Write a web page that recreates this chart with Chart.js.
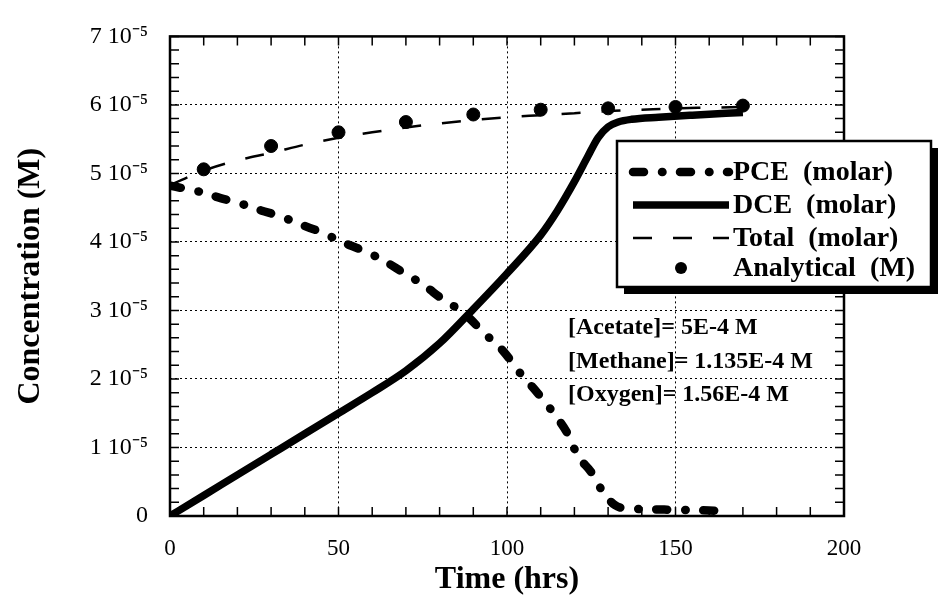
<!DOCTYPE html>
<html>
<head>
<meta charset="utf-8">
<script src="https://cdn.jsdelivr.net/npm/chart.js@4/dist/chart.umd.min.js"></script>
<style>
  html, body { margin: 0; background: #fff; }
  #wrap { width: 942px; height: 599px; }
</style>
</head>
<body>
<div id="wrap"><canvas id="chart"></canvas></div>
<script>
// time in hours, concentrations in M
var pceTime = [0, 9, 15, 21, 27, 33, 39, 45, 51, 57, 63, 69, 75, 81, 87, 93, 99, 104, 109, 114, 118, 121, 125, 129, 132, 135, 140, 150, 160, 166];
var pceConc = [4.82e-5, 4.73e-5, 4.64e-5, 4.56e-5, 4.46e-5, 4.37e-5, 4.25e-5, 4.14e-5, 4.00e-5, 3.88e-5, 3.74e-5, 3.56e-5, 3.38e-5, 3.16e-5, 2.97e-5, 2.68e-5, 2.40e-5, 2.08e-5, 1.80e-5, 1.49e-5, 1.20e-5, 0.88e-5, 0.64e-5, 0.31e-5, 0.16e-5, 0.11e-5, 0.10e-5, 0.09e-5, 0.08e-5, 0.07e-5];

var dceTime = [0, 10, 20, 30, 40, 50, 60, 70, 80, 90, 100, 110, 115, 120, 124, 127, 130, 133, 137, 145, 155, 170];
var dceConc = [0, 0.30e-5, 0.60e-5, 0.90e-5, 1.20e-5, 1.50e-5, 1.80e-5, 2.12e-5, 2.52e-5, 3.02e-5, 3.54e-5, 4.10e-5, 4.46e-5, 4.88e-5, 5.25e-5, 5.52e-5, 5.68e-5, 5.75e-5, 5.79e-5, 5.82e-5, 5.85e-5, 5.89e-5];

var totalTime = [0, 10, 20, 30, 40, 50, 60, 70, 80, 90, 100, 110, 120, 130, 140, 150, 160, 170];
var totalConc = [4.83e-5, 5.04e-5, 5.19e-5, 5.30e-5, 5.42e-5, 5.52e-5, 5.60e-5, 5.67e-5, 5.73e-5, 5.78e-5, 5.82e-5, 5.85e-5, 5.88e-5, 5.91e-5, 5.93e-5, 5.95e-5, 5.96e-5, 5.97e-5];

var labTime = [10, 30, 50, 70, 90, 110, 130, 150, 170];
var labConc = [5.06e-5, 5.40e-5, 5.60e-5, 5.75e-5, 5.86e-5, 5.93e-5, 5.95e-5, 5.97e-5, 5.99e-5];

var xTicks = [0, 50, 100, 150, 200];
var yTicks = [0, 1e-5, 2e-5, 3e-5, 4e-5, 5e-5, 6e-5, 7e-5];

var legendLabels = ['PCE  (molar)', 'DCE  (molar)', 'Total  (molar)', 'Analytical  (M)'];
var notes = ['[Acetate]= 5E-4 M', '[Methane]= 1.135E-4 M', '[Oxygen]= 1.56E-4 M'];

function pairs(xs, ys) {
    return xs.map(function (x, i) { return { x: x, y: ys[i] }; });
}

var PCE_DASH = [11, 18, 0.5, 17.5];
var TOTAL_DASH = [19, 21];

var serif = "'Liberation Serif', 'Times New Roman', serif";

// frame, inward ticks, legend box and the note text
var decor = {
    id: 'decor',
    afterDatasetsDraw: function (chart) {
        var ctx = chart.ctx;
        var a = chart.chartArea;
        var xs = chart.scales.x, ys = chart.scales.y;
        ctx.save();
        ctx.strokeStyle = '#000';
        ctx.lineWidth = 1.5;
        var t = 9;
        for (var v = 0; v <= 200; v += 10) {
            var px = xs.getPixelForValue(v);
            ctx.beginPath();
            ctx.moveTo(px, a.bottom); ctx.lineTo(px, a.bottom - t);
            ctx.moveTo(px, a.top); ctx.lineTo(px, a.top + t);
            ctx.stroke();
        }
        for (var k = 0; k <= 35; k++) {
            var py = ys.getPixelForValue(k * 2e-6);
            ctx.beginPath();
            ctx.moveTo(a.left, py); ctx.lineTo(a.left + t, py);
            ctx.moveTo(a.right, py); ctx.lineTo(a.right - t, py);
            ctx.stroke();
        }
        ctx.lineWidth = 2.5;
        ctx.strokeRect(a.left, a.top, a.right - a.left, a.bottom - a.top);
        ctx.restore();
    },
    afterDraw: function (chart) {
        var ctx = chart.ctx;
        ctx.save();
        // legend box with drop shadow
        var bx = 617, by = 141, bw = 314, bh = 146;
        ctx.fillStyle = '#000';
        ctx.fillRect(bx + 7, by + 7, bw, bh);
        ctx.fillStyle = '#fff';
        ctx.fillRect(bx, by, bw, bh);
        ctx.strokeStyle = '#000';
        ctx.lineWidth = 2.5;
        ctx.strokeRect(bx, by, bw, bh);

        var rows = [172, 205, 238, 268];
        var x0 = 633, x1 = 729;
        var ds = chart.data.datasets;
        for (var i = 0; i < 3; i++) {
            var d = ds[i];
            ctx.beginPath();
            ctx.lineWidth = d.borderWidth;
            ctx.lineCap = d.borderCapStyle || 'butt';
            ctx.setLineDash(d.borderDash || []);
            ctx.moveTo(x0, rows[i]);
            ctx.lineTo(x1, rows[i]);
            ctx.stroke();
        }
        ctx.setLineDash([]);
        ctx.beginPath();
        ctx.fillStyle = '#000';
        ctx.arc(681, rows[3], 6, 0, Math.PI * 2);
        ctx.fill();

        ctx.font = 'bold 28px ' + serif;
        ctx.textBaseline = 'middle';
        ctx.textAlign = 'left';
        legendLabels.forEach(function (s, j) {
            ctx.fillText(s, 733, rows[j] + 1);
        });

        ctx.font = 'bold 24px ' + serif;
        var noteRows = [328, 362, 395];
        notes.forEach(function (s, j) {
            ctx.fillText(s, 568, noteRows[j]);
        });
        ctx.restore();
    }
};

var ctx = document.getElementById('chart');

var chart = new Chart(ctx, {
    type: 'line',
    data: {
        datasets: [
            {
                label: 'PCE (molar)',
                data: pairs(pceTime, pceConc),
                borderColor: '#000',
                borderWidth: 8.5,
                borderDash: PCE_DASH,
                borderCapStyle: 'round',
                pointRadius: 0,
                cubicInterpolationMode: 'monotone',
                order: 1
            },
            {
                label: 'DCE (molar)',
                data: pairs(dceTime, dceConc),
                borderColor: '#000',
                borderWidth: 7.5,
                pointRadius: 0,
                cubicInterpolationMode: 'monotone',
                order: 2
            },
            {
                label: 'Total (molar)',
                data: pairs(totalTime, totalConc),
                borderColor: '#000',
                borderWidth: 2.5,
                borderDash: TOTAL_DASH,
                pointRadius: 0,
                cubicInterpolationMode: 'monotone',
                order: 4
            },
            {
                label: 'Analytical (M)',
                data: pairs(labTime, labConc),
                showLine: false,
                pointRadius: 6.5,
                pointBackgroundColor: '#000',
                pointBorderColor: '#000',
                order: 3
            }
        ]
    },
    options: {
        responsive: true,
        maintainAspectRatio: false,
        animation: false,
        layout: { padding: { top: 30, right: 98, left: 0, bottom: 0 } },
        plugins: {
            legend: { display: false },
            tooltip: { enabled: false }
        },
        scales: {
            x: {
                type: 'linear',
                min: 0,
                max: 200,
                afterBuildTicks: function (scale) {
                    scale.ticks = xTicks.map(function (v) { return { value: v }; });
                },
                afterFit: function (scale) { scale.height = 83; },
                ticks: {
                    color: '#000',
                    padding: 19,
                    maxRotation: 0,
                    font: { family: serif, size: 23 }
                },
                grid: { color: '#000', lineWidth: 1, drawTicks: false },
                border: { display: false, dash: [2, 3] },
                title: {
                    display: true,
                    text: 'Time (hrs)',
                    color: '#000',
                    font: { family: serif, size: 32, weight: 'bold' },
                    padding: { top: 0, bottom: 0 }
                }
            },
            y: {
                type: 'linear',
                min: 0,
                max: 7e-5,
                afterBuildTicks: function (scale) {
                    scale.ticks = yTicks.map(function (v) { return { value: v }; });
                },
                afterFit: function (scale) { scale.width = 170; },
                ticks: {
                    color: '#000',
                    padding: 22,
                    font: { family: serif, size: 24 },
                    callback: function (v) {
                        if (v === 0) return '0';
                        return Math.round(v * 1e5) + ' 10\u207B\u2075';
                    }
                },
                grid: { color: '#000', lineWidth: 1, drawTicks: false },
                border: { display: false, dash: [2, 3] },
                title: {
                    display: true,
                    text: 'Concentration (M)',
                    color: '#000',
                    font: { family: serif, size: 32, weight: 'bold' },
                    padding: { top: 12, bottom: 0 }
                }
            }
        }
    },
    plugins: [decor]
});
</script>
</body>
</html>
